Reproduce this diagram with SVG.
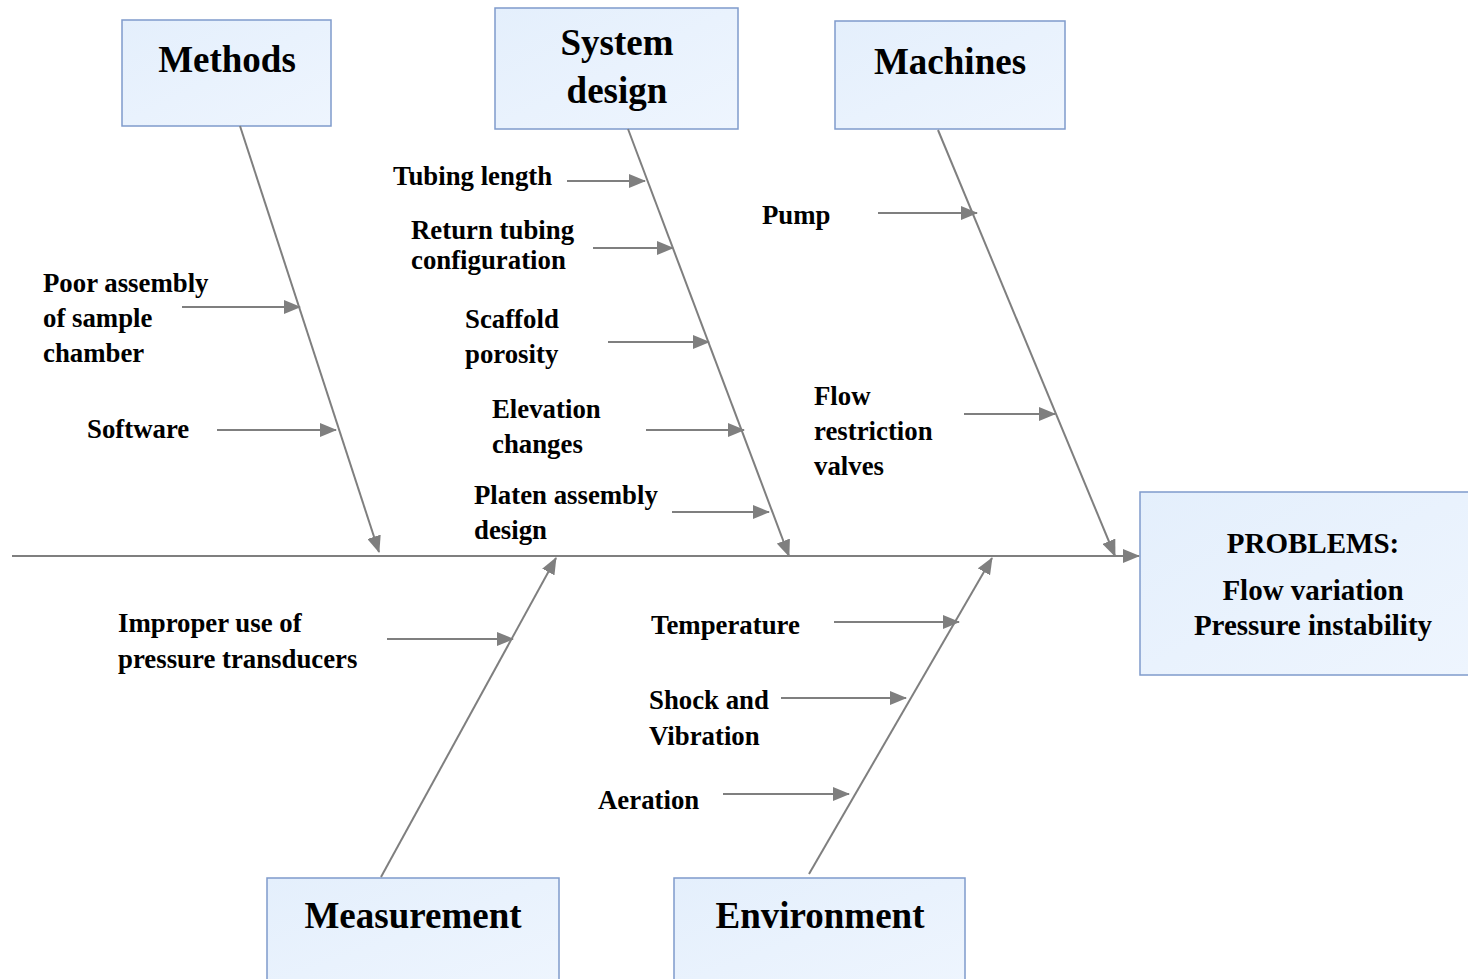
<svg xmlns="http://www.w3.org/2000/svg" width="1468" height="979" viewBox="0 0 1468 979">
<defs>
<marker id="ah" markerUnits="userSpaceOnUse" markerWidth="18" markerHeight="14" refX="16" refY="7" orient="auto">
<path d="M0,0 L17,7 L0,14 Z" fill="#7f7f7f"/>
</marker>
<linearGradient id="bg" x1="0" y1="0" x2="1" y2="1">
<stop offset="0" stop-color="#e4effc"/><stop offset="1" stop-color="#eef5fe"/>
</linearGradient>
</defs>
<style>
.box{fill:url(#bg);stroke:#7f9bcb;stroke-width:1.5}
.t{font-family:"Liberation Serif","Times New Roman",serif;font-weight:bold;fill:#000}
.h{font-size:37px;text-anchor:middle}
.p{font-size:29px;text-anchor:middle}
.l{font-size:26.8px}
.c line{stroke:#7f7f7f;stroke-width:2;marker-end:url(#ah)}
</style>
<rect width="1468" height="979" fill="#fff"/>
<g id="methods"><rect class="box" x="122" y="20" width="209" height="106"/><text class="t h" x="227" y="72">Methods</text></g>
<g id="system-design"><rect class="box" x="495" y="8" width="243" height="121"/><text class="t h" x="617" y="55">System</text><text class="t h" x="617" y="103">design</text></g>
<g id="machines"><rect class="box" x="835" y="21" width="230" height="108"/><text class="t h" x="950" y="74">Machines</text></g>
<g id="problems"><rect class="box" x="1140" y="492" width="330" height="183"/><text class="t p" x="1313" y="553">PROBLEMS:</text><text class="t p" x="1313" y="600">Flow variation</text><text class="t p" x="1313" y="635">Pressure instability</text></g>
<g id="measurement"><rect class="box" x="267" y="878" width="292" height="110"/><text class="t h" x="413" y="928">Measurement</text></g>
<g id="environment"><rect class="box" x="674" y="878" width="291" height="110"/><text class="t h" x="820" y="928">Environment</text></g>
<g id="labels" class="t l">
<text x="43" y="292">Poor assembly</text><text x="43" y="327">of sample</text><text x="43" y="362">chamber</text>
<text x="87" y="438">Software</text>
<text x="393" y="185">Tubing length</text>
<text x="411" y="239">Return tubing</text><text x="411" y="269">configuration</text>
<text x="465" y="328">Scaffold</text><text x="465" y="363">porosity</text>
<text x="492" y="418">Elevation</text><text x="492" y="453">changes</text>
<text x="474" y="504">Platen assembly</text><text x="474" y="539">design</text>
<text x="762" y="224">Pump</text>
<text x="814" y="405">Flow</text><text x="814" y="440">restriction</text><text x="814" y="475">valves</text>
<text x="118" y="632">Improper use of</text><text x="118" y="668">pressure transducers</text>
<text x="651" y="634">Temperature</text>
<text x="649" y="709">Shock and</text><text x="649" y="745">Vibration</text>
<text x="598" y="809">Aeration</text>
</g>
<g id="connectors" class="c">
<line x1="12" y1="556" x2="1139" y2="556"/>
<line x1="240" y1="126" x2="379" y2="552"/>
<line x1="628" y1="129" x2="789" y2="556"/>
<line x1="938" y1="130" x2="1115" y2="556"/>
<line x1="381" y1="877" x2="556" y2="558"/>
<line x1="809" y1="874" x2="992" y2="558"/>
<line x1="182" y1="307" x2="300" y2="307"/>
<line x1="217" y1="430" x2="336" y2="430"/>
<line x1="567" y1="181" x2="645" y2="181"/>
<line x1="593" y1="248" x2="673" y2="248"/>
<line x1="608" y1="342" x2="709" y2="342"/>
<line x1="646" y1="430" x2="744" y2="430"/>
<line x1="672" y1="512" x2="769" y2="512"/>
<line x1="878" y1="213" x2="977" y2="213"/>
<line x1="964" y1="414" x2="1055" y2="414"/>
<line x1="387" y1="639" x2="513" y2="639"/>
<line x1="834" y1="622" x2="959" y2="622"/>
<line x1="781" y1="698" x2="906" y2="698"/>
<line x1="723" y1="794" x2="849" y2="794"/>
</g>
</svg>
